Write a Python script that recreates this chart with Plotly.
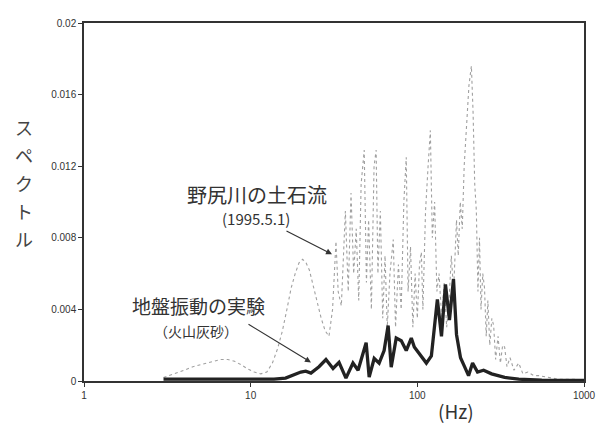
import plotly.graph_objects as go

# 野尻川の土石流 (1995.5.1) spectrum
debris_freq = [3.0, 3.5, 4.0, 4.5, 5.0, 5.5, 6.0, 6.6, 7.3, 8.0, 8.8, 9.5, 10.5, 11.5, 12.5,
               13.5, 14.5, 15.5, 16.5, 17.5, 18.5, 19.5, 20.5, 21.5, 22.5, 23.5, 25, 26.5, 28,
               29.5, 31, 32.5, 33.5, 35, 37, 38.5, 40, 41.5, 43, 44.5, 46, 48, 49.5, 51, 53,
               55, 56.6, 58, 60, 62, 64, 66, 68.5, 71.7, 74, 77, 80, 83, 85.8, 88, 91, 94, 97,
               100, 103, 105.7, 108, 112, 116, 119.7, 123, 127, 131, 135, 140, 145, 150, 155,
               160, 165, 171.8, 176, 181, 186, 191, 197, 204, 211, 216, 221, 226, 231, 236,
               241, 247, 253, 259, 265, 272, 280, 287, 295, 305, 315, 325, 334, 345, 360, 380,
               406, 430, 460, 500, 536, 600, 700, 850, 1000]
debris_val = [0.0002, 0.0004, 0.0006, 0.0008, 0.0009, 0.0010, 0.0011, 0.0012, 0.0012, 0.0011,
              0.0009, 0.0007, 0.0005, 0.0004, 0.0005, 0.0010, 0.0018, 0.0028, 0.0040, 0.0052,
              0.0060, 0.0066, 0.0068, 0.0066, 0.0062, 0.0055, 0.0045, 0.0035, 0.0028, 0.0025,
              0.0040, 0.0078, 0.0050, 0.0042, 0.0095, 0.0050, 0.0105, 0.0060, 0.0085, 0.0045,
              0.0110, 0.0129, 0.0055, 0.0090, 0.0040, 0.0120, 0.0129, 0.0060, 0.0095, 0.0035,
              0.0070, 0.0030, 0.0060, 0.0079, 0.0030, 0.0065, 0.0040, 0.0100, 0.0125, 0.0050,
              0.0075, 0.0030, 0.0060, 0.0035, 0.0065, 0.0072, 0.0040, 0.0095, 0.0120, 0.0140,
              0.0080, 0.0100, 0.0050, 0.0060, 0.0035, 0.0055, 0.0030, 0.0045, 0.0070, 0.0050,
              0.0090, 0.0070, 0.0100, 0.0085, 0.0120, 0.0140, 0.0165, 0.0176, 0.0150, 0.0110,
              0.0095, 0.0050, 0.0080, 0.0040, 0.0060, 0.0052, 0.0025, 0.0045, 0.0020, 0.0035,
              0.0031, 0.0012, 0.0025, 0.0010, 0.0020, 0.0019, 0.0008, 0.0013, 0.0006, 0.0010,
              0.0004, 0.0005, 0.0003, 0.0003, 0.0002, 0.0001, 0.0001, 0.00005]

# 地盤振動の実験 (火山灰砂) spectrum
exp_freq = [3.0, 11.5, 13.8, 16.2, 18.2, 20.0, 21.4, 23.0, 25.7, 28.3, 31.2, 33.9, 37.3, 41.1,
            44.1, 49.3, 51.4, 55.1, 59.0, 63.2, 66.8, 69.7, 74.7, 80.1, 85.8, 92.0, 95.9,
            105.7, 113.3, 121.4, 131.9, 139.6, 147.5, 155.9, 164.8, 171.8, 181.6, 192.0,
            202.9, 214.5, 229.8, 249.8, 279, 334, 406, 558, 1000]
exp_val = [0.0001, 0.0001, 0.0001, 0.00016, 0.00033, 0.0005, 0.00055, 0.00044, 0.0008, 0.0012,
           0.0007, 0.00104, 0.00016, 0.0010, 0.0006, 0.00214, 0.00022, 0.00126, 0.0010, 0.0017,
           0.0031, 0.00077, 0.0024, 0.00225, 0.0017, 0.0024, 0.0019, 0.0014, 0.0010, 0.0014,
           0.00456, 0.0025, 0.0054, 0.0034, 0.0057, 0.0026, 0.0013, 0.0008, 0.0003, 0.0010,
           0.0005, 0.0006, 0.0004, 0.0002, 0.0001, 0.00005, 0.00003]

y_ticks = [0, 0.004, 0.008, 0.012, 0.016, 0.02]
y_tick_text = ["0", "0.004", "0.008", "0.012", "0.016", "0.02"]
x_ticks = [1, 10, 100, 1000]
x_tick_text = ["1", "10", "100", "1000"]
y_label_chars = ["ス", "ペ", "ク", "ト", "ル"]

JP = "Noto Sans CJK JP"
fig = go.Figure()
fig.add_trace(go.Scatter(x=debris_freq, y=debris_val, mode="lines",
                         line=dict(color="rgba(120,120,120,0.7)", width=1.1, dash="dot"),
                         showlegend=False, hoverinfo="skip"))
fig.add_trace(go.Scatter(x=exp_freq, y=exp_val, mode="lines",
                         line=dict(color="#222222", width=3.3),
                         showlegend=False, hoverinfo="skip"))

axis_common = dict(showline=True, linecolor="#333333", linewidth=1.5, mirror=True,
                   showgrid=False, zeroline=False, ticks="outside", ticklen=4,
                   tickcolor="#333333",
                   tickfont=dict(family="Liberation Sans, Arial", size=10, color="#333333"))
fig.update_xaxes(type="log", range=[0, 3], tickvals=x_ticks, ticktext=x_tick_text, **axis_common)
fig.update_yaxes(range=[0, 0.02], tickvals=y_ticks, ticktext=y_tick_text, **axis_common)

anns = [
    dict(text="野尻川の土石流", x=0.346, y=0.522, size=20),
    dict(text="(1995.5.1)", x=0.344, y=0.453, size=15),
    dict(text="地盤振動の実験", x=0.228, y=0.212, size=19),
    dict(text="（火山灰砂）", x=0.224, y=0.141, size=14),
    dict(text="(Hz)", x=0.744, y=-0.082, size=19),
]
for a in anns:
    fig.add_annotation(text=a["text"], x=a["x"], y=a["y"], xref="paper", yref="paper",
                       xanchor="center", yanchor="middle", showarrow=False,
                       font=dict(family=JP, size=a["size"], color="#333333"))

# vertical y-axis label, one character per line
for i, ch in enumerate(y_label_chars):
    fig.add_annotation(text=ch, x=-0.12, y=(381 - (123 + 28.5 * i)) / 364,
                       xref="paper", yref="paper", xanchor="center", yanchor="middle",
                       showarrow=False, font=dict(family=JP, size=18, color="#444444"))

# arrows
fig.add_annotation(x=0.496, y=0.354, xref="paper", yref="paper", ax=-47, ay=-24,
                   showarrow=True, arrowhead=2, arrowsize=1, arrowwidth=1.2,
                   arrowcolor="#333333", text="")
fig.add_annotation(x=0.454, y=0.052, xref="paper", yref="paper", ax=-64, ay=-39,
                   showarrow=True, arrowhead=2, arrowsize=1, arrowwidth=1.2,
                   arrowcolor="#333333", text="")

fig.update_layout(width=610, height=423, margin=dict(l=76, r=34, t=9, b=50),
                  paper_bgcolor="white", plot_bgcolor="white")
fig.write_html("out.html")
